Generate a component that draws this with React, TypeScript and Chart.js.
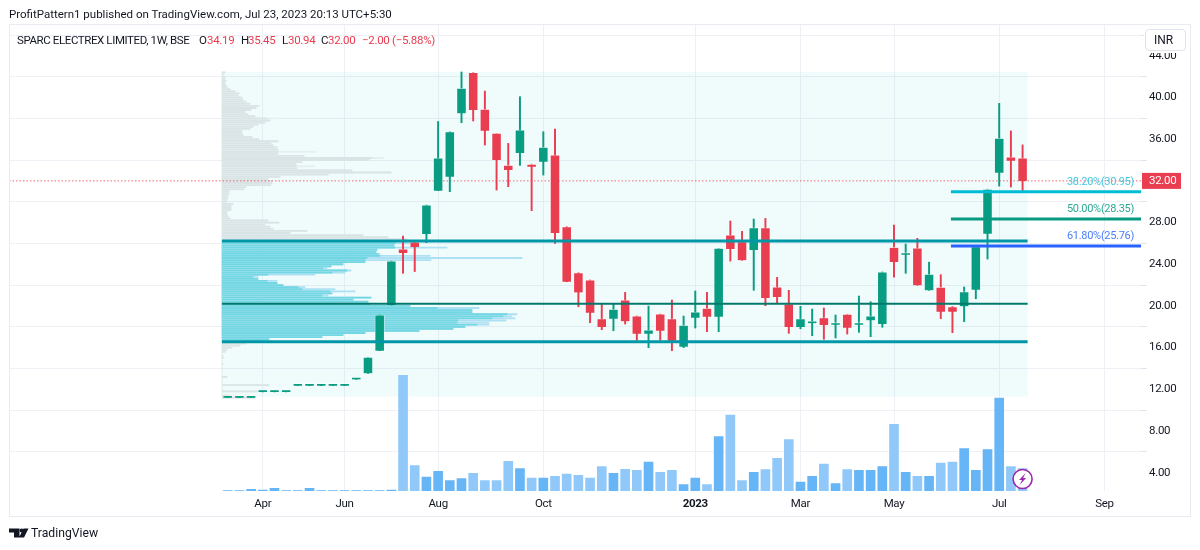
import { useEffect, useRef } from 'react';
import Chart from 'chart.js/auto';

const FONT = 'Roboto, sans-serif';

// weekly candles, oldest first
const weeks = Array.from({ length: 69 }, (_, i) => i);
const opens = [11.2, 11.2, 11.2, 11.75, 11.75, 11.75, 12.35, 12.35, 12.35, 12.35, 12.35, 12.95, 13.53, 15.7, 20.08, 25.46, 26.13, 26.9, 31.06, 32.4, 38.48, 42.4, 38.87, 36.56, 33.49, 34.67, 33.59, 33.84, 34.48, 27.6, 23.19, 22.49, 18.77, 18.77, 20.57, 19.03, 17.33, 19.22, 18.77, 16.09, 18.87, 19.77, 18.96, 26.8, 26.16, 25.36, 27.5, 21.81, 20.18, 17.98, 18.35, 18.87, 18.2, 19.19, 18.2, 18.62, 18.26, 25.62, 24.92, 25.56, 21.5, 21.8, 19.92, 19.96, 21.56, 26.93, 32.78, 34.29, 34.19];
const highs = [11.3, 11.3, 11.3, 11.85, 11.85, 11.85, 12.45, 12.45, 12.45, 12.45, 12.45, 13.05, 15.07, 19.13, 24.3, 26.7, 26.2, 29.68, 37.7, 36.72, 42.45, 42.4, 40.62, 36.56, 35.6, 40.08, 33.6, 36.72, 36.98, 27.6, 23.2, 22.49, 20.18, 20.18, 21.3, 19.03, 19.99, 19.22, 20.57, 19.03, 21.43, 21.3, 25.53, 28.15, 27.16, 28.34, 28.4, 22.74, 21.5, 19.96, 19.7, 19.8, 19.13, 19.2, 20.95, 20.4, 23.26, 27.76, 25.94, 26.49, 24.2, 23.0, 19.95, 21.82, 25.7, 31.2, 39.44, 36.8, 35.45];
const lows = [11.2, 11.2, 11.2, 11.75, 11.75, 11.75, 12.35, 12.35, 12.35, 12.35, 12.35, 12.95, 13.53, 15.7, 20.08, 23.13, 23.3, 26.07, 31.06, 30.96, 37.58, 37.75, 35.44, 31.12, 31.44, 33.49, 29.14, 32.56, 26.0, 22.32, 19.92, 18.39, 17.72, 17.62, 18.26, 16.7, 15.99, 16.7, 15.7, 16.0, 17.88, 17.53, 17.53, 24.3, 24.38, 21.5, 20.02, 20.3, 17.37, 17.81, 17.14, 16.8, 16.92, 17.3, 17.47, 17.05, 17.95, 22.77, 23.13, 21.98, 21.5, 18.78, 17.43, 18.49, 20.69, 24.5, 31.5, 31.41, 30.94];
const closes = [11.25, 11.25, 11.25, 11.8, 11.8, 11.8, 12.4, 12.4, 12.4, 12.4, 12.4, 13.0, 15.07, 19.13, 24.3, 25.08, 25.65, 29.68, 34.2, 36.72, 40.88, 38.8, 36.8, 34.0, 33.04, 36.88, 33.36, 35.22, 27.03, 22.32, 21.3, 19.35, 17.98, 19.68, 18.52, 17.33, 17.69, 17.62, 16.66, 18.14, 19.41, 18.96, 25.53, 25.46, 24.38, 27.5, 20.76, 20.85, 17.98, 18.77, 18.45, 18.17, 18.26, 17.91, 18.3, 19.03, 23.26, 24.21, 25.02, 21.98, 23.03, 19.44, 19.44, 21.37, 25.68, 31.2, 36.08, 33.93, 32.0];
const volumes = [1, 1, 2.7, 1.7, 3.7, 1, 1, 3.7, 1, 1, 1, 1, 1, 1, 1.7, 116.7, 26.3, 15, 20.7, 11.3, 13.3, 18.7, 11.3, 11.3, 30.7, 23.3, 14, 14, 15.7, 18, 16.7, 14, 25.3, 18.7, 22.7, 21.7, 30, 19.7, 21.7, 7.3, 14, 7.3, 55.3, 77, 11.3, 19.7, 22.3, 33.7, 52.3, 10, 15.7, 28, 8.3, 22.3, 21.7, 21.7, 25.3, 67.7, 19.7, 15.7, 15.7, 29, 30, 43.3, 21.7, 42.3, 94, 25.3, 23.3];

// volume profile rows
const profileRows = [42.4, 42.2, 42.0, 41.8, 41.6, 41.4, 41.2, 41.0, 40.8, 40.6, 40.4, 40.2, 40.0, 39.8, 39.6, 39.4, 39.2, 39.0, 38.8, 38.6, 38.4, 38.2, 38.0, 37.8, 37.6, 37.4, 37.2, 37.0, 36.8, 36.6, 36.4, 36.2, 36.0, 35.8, 35.6, 35.4, 35.2, 35.0, 34.8, 34.6, 34.4, 34.2, 34.0, 33.8, 33.6, 33.4, 33.2, 33.0, 32.8, 32.6, 32.4, 32.2, 32.0, 31.8, 31.6, 31.4, 31.2, 31.0, 30.8, 30.6, 30.4, 30.2, 30.0, 29.8, 29.6, 29.4, 29.2, 29.0, 28.8, 28.6, 28.4, 28.2, 28.0, 27.8, 27.6, 27.4, 27.2, 27.0, 26.8, 26.6, 26.4, 26.2, 26.0, 25.8, 25.6, 25.4, 25.2, 25.0, 24.8, 24.6, 24.4, 24.2, 24.0, 23.8, 23.6, 23.4, 23.2, 23.0, 22.8, 22.6, 22.4, 22.2, 22.0, 21.8, 21.6, 21.4, 21.2, 21.0, 20.8, 20.6, 20.4, 20.2, 20.0, 19.8, 19.6, 19.4, 19.2, 19.0, 18.8, 18.6, 18.4, 18.2, 18.0, 17.8, 17.6, 17.4, 17.2, 17.0, 16.8, 16.6, 16.4, 16.2, 16.0, 15.8, 15.6, 15.4, 15.2, 15.0, 14.8, 14.6, 14.4, 14.2, 14.0, 13.8, 13.6, 13.4, 13.2, 13.0, 12.8, 12.6, 12.4, 12.2, 12.0, 11.8, 11.6, 11.4, 11.2];
const profileTotal = [3, 1, 3, 3, 4, 3, 4, 5, 8, 13, 17, 16, 20, 21, 24, 28, 37, 34, 29, 23, 26, 33, 56, 48, 43, 36, 31, 28, 20, 20, 21, 30, 37, 56, 49, 51, 55, 56, 94, 56, 82, 162, 147, 80, 74, 93, 75, 130, 169, 106, 58, 46, 50, 50, 49, 24, 22, 7, 7, 6, 6, 5, 4, 11, 9, 9, 9, 5, 5, 6, 8, 46, 57, 43, 48, 51, 85, 68, 141, 166, 185, 173, 190, 172, 225, 155, 154, 158, 208, 300, 209, 143, 121, 109, 105, 129, 123, 93, 36, 36, 55, 55, 61, 83, 113, 133, 110, 106, 149, 131, 146, 148, 188, 257, 250, 250, 295, 290, 293, 284, 267, 267, 243, 231, 197, 143, 121, 100, 47, 47, 24, 18, 10, 5, 3, 0, 1, 1, 0, 0, 1, 0, 0, 0, 0, 0, 5, 0, 0, 0, 47, 0, 0, 35, 0, 8, 33];
const profileCore = [3, 1, 3, 3, 4, 3, 4, 5, 8, 13, 17, 16, 20, 21, 24, 28, 37, 34, 29, 23, 26, 33, 45, 48, 43, 36, 31, 28, 20, 20, 21, 30, 37, 56, 49, 51, 55, 56, 56, 56, 82, 150, 147, 80, 74, 74, 75, 130, 169, 106, 58, 46, 50, 50, 49, 24, 22, 7, 7, 6, 6, 5, 4, 11, 9, 9, 9, 5, 5, 6, 8, 46, 57, 43, 48, 51, 85, 68, 141, 166, 185, 173, 173, 172, 173, 155, 154, 156, 158, 145, 143, 143, 121, 109, 101, 125, 110, 46, 31, 36, 45, 55, 61, 76, 80, 108, 110, 100, 149, 131, 146, 148, 188, 215, 250, 250, 285, 281, 270, 236, 235, 255, 243, 231, 197, 143, 121, 100, 47, 40, 24, 18, 10, 5, 3, 0, 1, 1, 0, 0, 1, 0, 0, 0, 0, 0, 5, 0, 0, 0, 47, 0, 0, 35, 0, 8, 33];

const vaHigh = 26.23;
const poc = 20.21;
const vaLow = 16.56;
const lastPrice = 32.0;

const fibNames = ['38.20%', '50.00%', '61.80%'];
const fibPrices = [30.95, 28.35, 25.76];
const fibColors = ['#00bcd4', '#089981', '#2962ff'];
const fibTextColors = ['#45c8dc', '#2aa892', '#4a7dff'];

const priceTicks = [4, 8, 12, 16, 20, 24, 28, 32, 36, 40, 44];
const timeTicks = [3, 10, 18, 27, 40, 49, 57, 66, 75];
const timeLabels = ['Apr', 'Jun', 'Aug', 'Oct', '2023', 'Mar', 'May', 'Jul', 'Sep'];

const XMIN = -18.71;
const XMAX = 78.13;
const GREEN = '#089c82';
const RED = '#e93d50';
const GRID = '#eef0f5';

const isUp = closes.map((c, i) => c >= opens[i]);
const candleColors = isUp.map(up => (up ? GREEN : RED));
const inValueArea = (p: number) => p <= vaHigh && p >= vaLow;

function segment(x0: number, x1: number, y: number) {
  return [{ x: x0, y }, { x: x1, y }];
}

function levelLine(data: { x: number; y: number }[], color: string, width: number) {
  return {
    type: 'line' as const,
    data,
    borderColor: color,
    borderWidth: width,
    pointRadius: 0,
    xAxisID: 'x',
    yAxisID: 'y',
    order: 1,
  };
}

const overlayPlugin = {
  id: 'overlay',
  beforeDraw(chart: any) {
    // the reference text is tighter than Roboto
    chart.ctx.letterSpacing = '-0.3px';
  },
  beforeDatasetsDraw(chart: any) {
    // tinted range of the volume profile
    const { ctx, scales } = chart;
    const x0 = scales.x.getPixelForValue(-0.49);
    const x1 = scales.x.getPixelForValue(68.43);
    const y0 = scales.y.getPixelForValue(42.45);
    const y1 = scales.y.getPixelForValue(11.29);
    ctx.save();
    ctx.fillStyle = 'rgba(0, 200, 200, 0.06)';
    ctx.fillRect(x0, y0, x1 - x0, y1 - y0);
    ctx.restore();
  },
  afterDraw(chart: any) {
    const { ctx, scales, chartArea } = chart;
    ctx.save();

    // fib labels
    ctx.font = `11px ${FONT}`;
    ctx.textAlign = 'right';
    ctx.textBaseline = 'middle';
    fibPrices.forEach((p, i) => {
      ctx.fillStyle = fibTextColors[i];
      ctx.fillText(`${fibNames[i]}(${p.toFixed(2)})`, chartArea.right - 7, scales.y.getPixelForValue(p) - 10);
    });

    // last price tag
    const py = scales.y.getPixelForValue(lastPrice);
    ctx.fillStyle = RED;
    ctx.fillRect(chartArea.right + 1, py - 8, 39, 16);
    ctx.fillStyle = '#ffffff';
    ctx.textAlign = 'left';
    ctx.font = `11.5px ${FONT}`;
    ctx.fillText(lastPrice.toFixed(2), chartArea.right + 8, py + 0.5);

    // earnings-style marker on the last bar
    const mx = scales.x.getPixelForValue(weeks[weeks.length - 1]);
    const my = 479;
    ctx.beginPath();
    ctx.arc(mx, my, 9.5, 0, Math.PI * 2);
    ctx.fillStyle = '#ffffff';
    ctx.fill();
    ctx.lineWidth = 1.6;
    ctx.strokeStyle = '#9c27b0';
    ctx.stroke();
    ctx.beginPath();
    ctx.moveTo(mx + 3, my - 6);
    ctx.lineTo(mx - 3.5, my + 1);
    ctx.lineTo(mx - 0.5, my + 1);
    ctx.lineTo(mx - 3, my + 6);
    ctx.lineTo(mx + 3.5, my - 1);
    ctx.lineTo(mx + 0.5, my - 1);
    ctx.closePath();
    ctx.fillStyle = '#9c27b0';
    ctx.fill();

    ctx.restore();
  },
};

function Text({ x, y, color = '#131722', spacing = 0, children }: { x: number; y: number; color?: string; spacing?: number; children: any }) {
  return (
    <span style={{ position: 'absolute', left: x, top: y, color, font: `11.5px ${FONT}`, lineHeight: '16px', letterSpacing: spacing, whiteSpace: 'nowrap' }}>
      {children}
    </span>
  );
}

export default function App() {
  const chartRef = useRef<HTMLCanvasElement>(null);

  useEffect(() => {
    document.body.style.margin = '0';
    if (!chartRef.current) return;

    const chart = new Chart(chartRef.current, {
      type: 'bar',
      plugins: [overlayPlugin],
      data: {
        datasets: [
          // level lines sit over the candles
          levelLine(segment(-0.49, 68.43, vaHigh), '#0097a7', 3),
          levelLine(segment(-0.49, 68.43, poc), '#00796b', 2),
          levelLine(segment(-0.49, 68.43, vaLow), '#0097a7', 3),
          ...fibPrices.map((p, i) => levelLine(segment(61.87, XMAX, p), fibColors[i], 3)),
          {
            type: 'bar',
            data: weeks.map(i => ({ x: i, y: [opens[i], closes[i]] })),
            backgroundColor: candleColors,
            borderColor: 'rgba(255, 255, 255, 0.55)',
            borderWidth: 0.8,
            barThickness: 9.5,
            minBarLength: 2,
            grouped: false,
            xAxisID: 'x',
            yAxisID: 'y',
            order: 2,
          },
          {
            type: 'bar',
            data: weeks.map(i => ({ x: i, y: [lows[i], highs[i]] })),
            backgroundColor: candleColors,
            barThickness: 1.3,
            grouped: false,
            xAxisID: 'x',
            yAxisID: 'y',
            order: 3,
          },
          {
            ...levelLine(segment(XMIN, XMAX, lastPrice), 'rgba(242, 54, 69, 0.75)', 1),
            borderDash: [1.5, 2],
            order: 4,
          },
          {
            type: 'bar',
            indexAxis: 'y',
            data: profileRows.map((p, i) => ({ x: [0, profileCore[i]], y: p })),
            backgroundColor: profileRows.map(p => (inValueArea(p) ? '#72d6e3' : '#dae4e6')),
            barThickness: 1.2,
            grouped: false,
            xAxisID: 'xProfile',
            yAxisID: 'y',
            order: 5,
          },
          {
            type: 'bar',
            indexAxis: 'y',
            data: profileRows.map((p, i) => ({ x: [0, profileTotal[i]], y: p })),
            backgroundColor: profileRows.map(p => (inValueArea(p) ? '#aee0f3' : '#e6eff0')),
            barThickness: 1.2,
            grouped: false,
            xAxisID: 'xProfile',
            yAxisID: 'y',
            order: 6,
          },
          {
            type: 'bar',
            data: weeks.map(i => ({ x: i, y: volumes[i] })),
            backgroundColor: isUp.map(up => (up ? '#66b5f6' : '#90c9f9')),
            borderColor: 'rgba(255, 255, 255, 0.35)',
            borderWidth: 1,
            barThickness: 11,
            grouped: false,
            xAxisID: 'x',
            yAxisID: 'yVolume',
            order: 7,
          },
        ] as any,
      },
      options: {
        responsive: false,
        devicePixelRatio: 1,
        animation: false,
        events: [],
        layout: { padding: { left: 9, top: 25, right: 10, bottom: 33 } },
        plugins: {
          legend: { display: false },
          tooltip: { enabled: false },
        },
        scales: {
          x: {
            type: 'linear',
            min: XMIN,
            max: XMAX,
            offset: false,
            afterBuildTicks: (axis: any) => {
              axis.ticks = timeTicks.map(value => ({ value }));
            },
            afterFit: (axis: any) => {
              axis.height = 26;
            },
            grid: { color: GRID, drawTicks: false, offset: false },
            border: { display: false },
            ticks: {
              autoSkip: false,
              maxRotation: 0,
              padding: 6,
              color: '#131722',
              callback: (_v: any, i: number) => timeLabels[i],
              font: (ctx: any) => ({ family: FONT, size: 11.5, weight: ctx.tick?.value === 40 ? 'bold' : 'normal' }),
            },
          },
          xProfile: {
            type: 'linear',
            display: false,
            min: -213,
            max: 919,
            offset: false,
          },
          y: {
            type: 'linear',
            position: 'right',
            min: 2.24,
            max: 46.96,
            offset: false,
            afterBuildTicks: (axis: any) => {
              axis.ticks = priceTicks.map(value => ({ value }));
            },
            afterFit: (axis: any) => {
              axis.width = 49;
            },
            grid: { color: GRID, tickLength: 6, tickColor: '#e0e3eb' },
            border: { display: false },
            ticks: {
              padding: 2,
              color: '#131722',
              callback: (v: any) => Number(v).toFixed(2),
              font: { family: FONT, size: 11.5 },
            },
          },
          yVolume: {
            type: 'linear',
            display: false,
            min: 0,
            max: 466,
          },
        },
      },
    });

    return () => {
      chart.destroy();
    };
  }, []);

  return (
    <div style={{ position: 'absolute', left: 0, top: 0, width: 1200, height: 550, background: '#fff', overflow: 'hidden' }}>
      <canvas ref={chartRef} width={1200} height={550} style={{ position: 'absolute', left: 0, top: 0 }} />
      <div style={{ position: 'absolute', left: 9, top: 24, width: 1180, height: 491, border: '1.5px solid #e9ebf2', pointerEvents: 'none' }} />

      <Text x={9} y={6}>ProfitPattern1 published on TradingView.com, Jul 23, 2023 20:13 UTC+5:30</Text>

      <Text x={17} y={32} spacing={-0.4}>SPARC ELECTREX LIMITED, 1W, BSE</Text>
      <Text x={199} y={32}>O</Text>
      <Text x={207} y={32} color={RED} spacing={-0.3}>34.19</Text>
      <Text x={241} y={32}>H</Text>
      <Text x={248} y={32} color={RED} spacing={-0.3}>35.45</Text>
      <Text x={282} y={32}>L</Text>
      <Text x={288} y={32} color={RED} spacing={-0.3}>30.94</Text>
      <Text x={321} y={32}>C</Text>
      <Text x={328} y={32} color={RED} spacing={-0.3}>32.00</Text>
      <Text x={362} y={32} color={RED} spacing={-0.3}>−2.00 (−5.88%)</Text>

      <div style={{ position: 'absolute', left: 1145, top: 29, width: 41, height: 22, boxSizing: 'border-box', background: '#fff', border: '1px solid #e0e3eb', borderRadius: 4, boxShadow: '0 1px 0 1px #fff', font: `12px ${FONT}`, lineHeight: '20px', color: '#131722', paddingLeft: 8 }}>
        INR
      </div>

      <svg width="20" height="12" style={{ position: 'absolute', left: 9, top: 528 }}>
        <path d="M0 0.5H10.5V9.5H5V4.5H0Z M14.5 0.5H19.5L15 9.5H10Z" fill="#131722" />
        <circle cx="12.5" cy="2.5" r="2" fill="#131722" />
      </svg>
      <span style={{ position: 'absolute', left: 31, top: 524, font: `12.2px ${FONT}`, lineHeight: '18px', color: '#131722' }}>TradingView</span>
    </div>
  );
}
